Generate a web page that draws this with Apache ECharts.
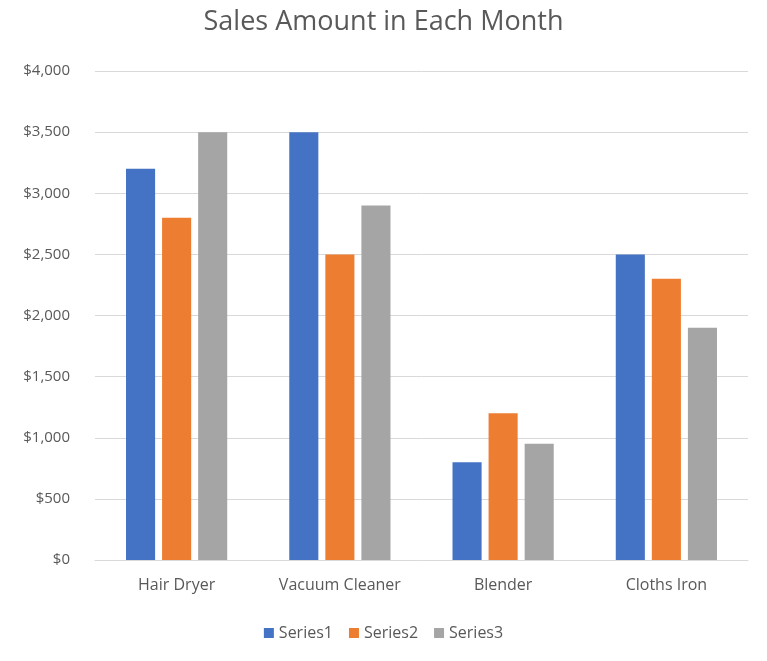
<!DOCTYPE html>
<html>
<head>
<meta charset="utf-8">
<script src="https://cdn.jsdelivr.net/npm/echarts@6/dist/echarts.min.js"></script>
<style>
  html, body { margin: 0; padding: 0; background: #fff; }
  #chart { width: 767px; height: 661px; }
</style>
</head>
<body>
<div id="chart"></div>
<script>
const categories = ['Hair Dryer', 'Vacuum Cleaner', 'Blender', 'Cloths Iron'];
const series1 = [3200, 3500, 800, 2500];
const series2 = [2800, 2500, 1200, 2300];
const series3 = [3500, 2900, 950, 1900];
const seriesNames = ['Series1', 'Series2', 'Series3'];
const colors = ['#4472c4', '#ed7d31', '#a5a5a5'];

const chart = echarts.init(document.getElementById('chart'));
const font = '"Open Sans", "Liberation Sans", sans-serif';

chart.setOption({
  backgroundColor: '#fff',
  color: colors,
  title: {
    text: 'Sales Amount in Each Month',
    left: 'center',
    top: 4,
    textStyle: { fontFamily: font, fontSize: 27, fontWeight: 'normal', color: '#595959' }
  },
  legend: {
    bottom: 15,
    left: 'center',
    itemWidth: 10,
    itemHeight: 10,
    itemGap: 16,
    icon: 'rect',
    textStyle: { fontFamily: font, fontSize: 16, color: '#595959' },
    data: seriesNames
  },
  grid: { left: 95, right: 19, top: 71, bottom: 101 },
  xAxis: {
    type: 'category',
    data: categories,
    axisLine: { lineStyle: { color: '#d9d9d9' } },
    axisTick: { show: false },
    axisLabel: { fontFamily: font, fontSize: 16, color: '#595959', margin: 17 }
  },
  yAxis: {
    type: 'value',
    min: 0,
    max: 4000,
    interval: 500,
    axisLine: { show: false },
    axisTick: { show: false },
    splitLine: { lineStyle: { color: '#d9d9d9' } },
    axisLabel: {
      fontFamily: font, fontSize: 15, color: '#595959', margin: 25,
      formatter: v => '$' + v.toLocaleString('en-US')
    }
  },
  series: [series1, series2, series3].map((d, i) => ({
    name: seriesNames[i],
    type: 'bar',
    data: d,
    barGap: '24%',
    barCategoryGap: '38%'
  }))
});
</script>
</body>
</html>
